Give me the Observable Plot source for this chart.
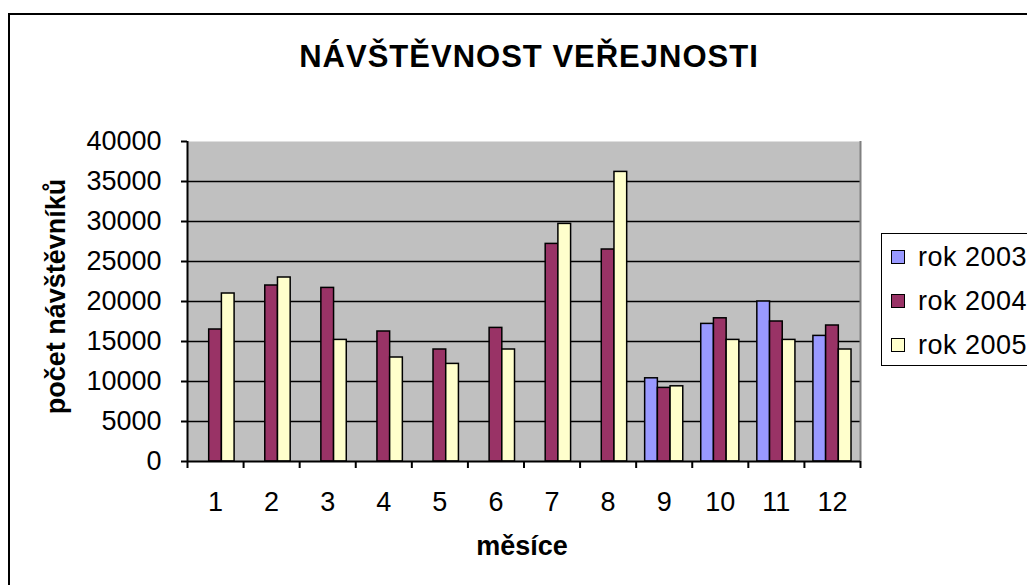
<!DOCTYPE html>
<html><head><meta charset="utf-8">
<script src="https://cdn.jsdelivr.net/npm/d3@7"></script>
<script src="https://cdn.jsdelivr.net/npm/@observablehq/plot@0.6"></script>
<style>
body{margin:0;background:#fff;}
#wrap{position:relative;width:1027px;height:585px;overflow:hidden;font-family:"Liberation Sans",Arial,sans-serif;color:#000;}
#border{position:absolute;left:8px;top:13px;width:1200px;height:800px;border:2px solid #000;}
#chart{position:absolute;left:0;top:0;}
#title{position:absolute;left:529px;top:41px;transform:translateX(-50%);font-weight:bold;font-size:31px;line-height:31px;letter-spacing:1px;white-space:nowrap;}
#legend{position:absolute;left:881px;top:233px;width:300px;height:131px;border:1.5px solid #000;background:#fff;}
.sw{position:absolute;left:9px;width:12px;height:12px;border:1.5px solid #000;}
.lt{position:absolute;left:36px;font-size:27px;line-height:27px;letter-spacing:0.5px;white-space:nowrap;}
g[aria-label="axis-title"] text{letter-spacing:1.5px;}
g[aria-label="y-title"] text{letter-spacing:2px;}
</style></head>
<body><div id="wrap"><div id="border"></div><div id="chart"></div><div id="title">NÁVŠTĚVNOST VEŘEJNOSTI</div><div id="legend"></div></div>
<script>
const months = [1,2,3,4,5,6,7,8,9,10,11,12];
const years = ["rok 2003","rok 2004","rok 2005"];
const colors = ["#9999FF","#993366","#FFFFCC"];
const v2003 = [null,null,null,null,null,null,null,null,10400,17200,20000,15700];
const v2004 = [16500,22000,21700,16250,14000,16700,27200,26500,9200,17900,17500,17000];
const v2005 = [21000,23000,15200,13000,12200,14000,29700,36200,9400,15200,15200,14000];
const yTicks = [0,5000,10000,15000,20000,25000,30000,35000,40000];
const gridTicks = [5000,10000,15000,20000,25000,30000,35000];
const monthEdges = [0.5,1.5,2.5,3.5,4.5,5.5,6.5,7.5,8.5,9.5,10.5,11.5,12.5];
const BAR = 0.2265; // bar width as a fraction of one month slot

const series = [v2003, v2004, v2005];
const data = months.flatMap((m, i) => series.map((s, j) => ({month: m, year: years[j], j, value: s[i]})))
  .filter(d => d.value != null);

const chart = Plot.plot({
  width: 1027, height: 585,
  marginLeft: 187, marginRight: 167, marginTop: 141, marginBottom: 124,
  style: {fontFamily: '"Liberation Sans", Arial, sans-serif', fontSize: "27px", color: "#000", background: "transparent", overflow: "visible"},
  x: {domain: [0.5, 12.5]},
  y: {domain: [0, 40000]},
  color: {domain: years, range: colors},
  marks: [
    Plot.frame({fill: "#c0c0c0", stroke: null}),
    Plot.ruleY(gridTicks, {stroke: "#000", strokeWidth: 1.5}),
    Plot.ruleX([12.5], {stroke: "#808080", strokeWidth: 2}),
    Plot.rectY(data, {
      x1: d => d.month + (d.j - 1.5) * BAR,
      x2: d => d.month + (d.j - 0.5) * BAR,
      y1: 0, y2: "value", fill: "year", stroke: "#000", strokeWidth: 1.5
    }),
    Plot.axisY({ticks: yTicks, tickSize: 6, tickPadding: 20, fontSize: 27, strokeWidth: 2, label: null, tickFormat: d => String(d)}),
    Plot.axisX({ticks: monthEdges, tickSize: 7, tickFormat: () => "", strokeWidth: 2, label: null}),
    Plot.axisX({ticks: months, tickSize: 0, tickPadding: 30, fontSize: 27, label: null, tickFormat: d => String(d)}),
    Plot.ruleX([0.5], {stroke: "#000", strokeWidth: 2}),
    Plot.ruleY([0], {stroke: "#000", strokeWidth: 2}),
    Plot.text(["počet návštěvníků"], {text: d => d, frameAnchor: "left", textAnchor: "middle", dx: -131, dy: -5, rotate: -90, fontWeight: "bold", fontSize: 27, fill: "#000", ariaLabel: "y-title"}),
    Plot.text(["měsíce"], {text: d => d, frameAnchor: "bottom", dy: 93, dx: -2, fontWeight: "bold", fontSize: 27, fill: "#000", ariaLabel: "axis-title"})
  ]
});
document.getElementById("chart").appendChild(chart);

const legend = document.getElementById("legend");
years.forEach((y, i) => {
  const sw = document.createElement("div");
  sw.className = "sw";
  sw.style.top = (16 + i * 44) + "px";
  sw.style.background = colors[i];
  legend.appendChild(sw);
  const t = document.createElement("div");
  t.className = "lt";
  t.style.top = (10 + i * 44) + "px";
  t.textContent = y;
  legend.appendChild(t);
});
</script>
</body></html>
